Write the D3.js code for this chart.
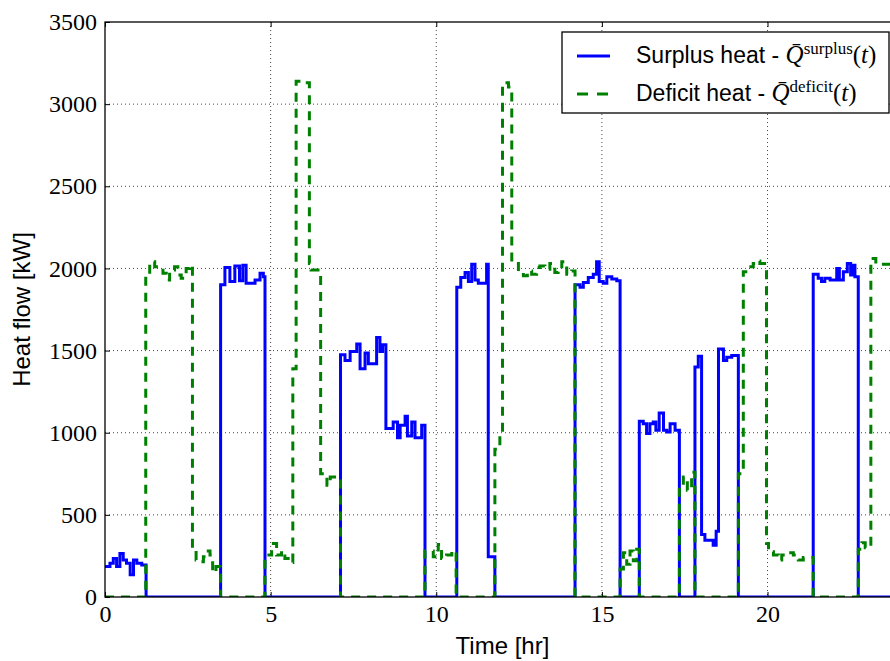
<!DOCTYPE html>
<html>
<head>
<meta charset="utf-8">
<script src="https://cdn.jsdelivr.net/npm/d3@7/dist/d3.min.js"></script>
<style>
  body { margin: 0; background: #fff; }
  svg { display: block; }
</style>
</head>
<body>
<svg id="chart" width="890" height="661"></svg>
<script>
// Step profiles: each value holds from its start hour until the next start hour.
const surplusStart = [
  0, 0.15, 0.25, 0.35, 0.45, 0.55, 0.65, 0.76, 0.86, 0.96, 1.11, 1.24,
  3.49, 3.62, 3.77, 3.92, 4.06, 4.16, 4.26, 4.53, 4.68, 4.78, 4.83,
  7.11, 7.245, 7.4, 7.6, 7.7, 7.85, 7.95, 8.2, 8.3, 8.38, 8.48, 8.7, 8.83, 8.91, 9.06, 9.13, 9.26, 9.36, 9.56, 9.66,
  10.62, 10.74, 10.87, 10.97, 11.07, 11.17, 11.27, 11.52, 11.57, 11.77,
  14.19, 14.34, 14.44, 14.59, 14.74, 14.84, 14.92, 15.04, 15.15, 15.3, 15.45, 15.55,
  16.13, 16.25, 16.35, 16.45, 16.55, 16.63, 16.73, 16.86, 16.96, 17.06, 17.21, 17.34,
  17.81, 17.91, 18.01, 18.11, 18.36, 18.45, 18.52, 18.67, 18.77, 18.92, 19.12,
  21.38, 21.53, 21.63, 21.73, 21.89, 22.09, 22.17, 22.29, 22.41, 22.51, 22.59, 22.64, 22.74
];
const surplusKW = [
  185, 205, 235, 185, 265, 225, 205, 135, 225, 205, 195, 0,
  1900, 2005, 1920, 2015, 1925, 2020, 1910, 1930, 1970, 1950, 0,
  1475, 1440, 1495, 1540, 1390, 1485, 1420, 1580, 1495, 1535, 1025, 1065, 970, 1045, 1100, 980, 1065, 970, 1045, 0,
  1885, 1945, 1975, 1920, 2025, 1930, 1910, 2025, 245, 0,
  1900, 1885, 1915, 1945, 1965, 2040, 1920, 1910, 1950, 1935, 1925, 0,
  1070, 1055, 995, 1055, 1065, 1015, 1120, 1015, 1005, 1055, 1015, 0,
  1400, 1465, 380, 345, 315, 400, 1510, 1440, 1460, 1470, 0,
  1965, 1940, 1920, 1940, 1930, 2000, 1930, 1980, 2030, 1960, 2020, 1950, 0
];
const deficitStart = [
  0, 1.23, 1.35, 1.5, 1.6, 1.75, 1.85, 1.95, 2.1, 2.2, 2.3, 2.45, 2.55,
  2.64, 2.75, 2.87, 2.97, 3.07, 3.17, 3.25, 3.35, 3.49,
  4.83, 5.03, 5.18, 5.33, 5.43, 5.53, 5.67, 5.77, 5.9, 6.17, 6.22, 6.51, 6.7, 6.8, 7.11,
  9.66, 9.91, 10.06, 10.16, 10.31, 10.47, 10.6,
  11.77, 11.92, 12.0, 12.18, 12.28, 12.48, 12.63, 12.75, 12.88, 13.03, 13.13, 13.28, 13.43, 13.58, 13.68, 13.79, 13.94, 14.09, 14.19,
  15.55, 15.65, 15.75, 15.85, 15.95, 16.05, 16.13,
  17.34, 17.46, 17.58, 17.71, 17.81,
  19.12, 19.27, 19.42, 19.57, 19.67, 19.77, 19.97, 20.03, 20.18, 20.33, 20.43, 20.58, 20.78, 20.93, 21.08, 21.38,
  22.74, 22.85, 22.95, 23.12, 23.27, 23.45
];
const deficitKW = [
  0, 1960, 2040, 2010, 2000, 1970, 1930, 1990, 2010, 1960, 1940, 2000, 2020,
  280, 225, 215, 245, 280, 255, 150, 185, 0,
  255, 325, 255, 280, 235, 210, 1390, 3140, 3130, 2030, 1990, 750, 680, 730, 0,
  280, 245, 320, 235, 255, 280, 0,
  900, 970, 3130, 3105, 2040, 1985, 1955, 1985, 1965, 2005, 2015, 1995, 2030, 1975, 1990, 2040, 1965, 1985, 0,
  170, 270, 200, 280, 220, 290, 0,
  670, 730, 650, 760, 0,
  750, 1980, 2010, 2030, 2045, 2030, 325, 275, 255, 225, 255, 270, 255, 225, 240, 0,
  290, 330, 300, 2060, 2030, 2025
];

const xTicks = [0, 5, 10, 15, 20];
const yTicks = [0, 500, 1000, 1500, 2000, 2500, 3000, 3500];
const xDomain = [0, 24];
const yDomain = [0, 3500];
const xLabel = "Time [hr]";
const yLabel = "Heat flow [kW]";
const legendLabels = ["Surplus heat - ", "Deficit heat - "];
const legendSupers = ["surplus", "deficit"];

const svg = d3.select("#chart");
const plot = { left: 105, right: 900, top: 22, bottom: 597 };

const x = d3.scaleLinear().domain(xDomain).range([plot.left, plot.right]);
const y = d3.scaleLinear().domain(yDomain).range([plot.bottom, plot.top]);

svg.append("rect").attr("width", 890).attr("height", 661).attr("fill", "#fff");

svg.append("defs").append("clipPath").attr("id", "plotClip")
  .append("rect")
  .attr("x", plot.left).attr("y", plot.top)
  .attr("width", plot.right - plot.left).attr("height", plot.bottom - plot.top);

// dotted grid
const grid = svg.append("g").attr("stroke", "#000").attr("stroke-width", 0.9)
  .attr("stroke-dasharray", "1,3").attr("opacity", 0.8);
grid.selectAll(".gx").data(xTicks.filter(t => t > xDomain[0] && t < xDomain[1]))
  .join("line")
  .attr("x1", d => x(d)).attr("x2", d => x(d))
  .attr("y1", plot.top).attr("y2", plot.bottom);
grid.selectAll(".gy").data(yTicks.filter(t => t > yDomain[0] && t < yDomain[1]))
  .join("line")
  .attr("y1", d => y(d)).attr("y2", d => y(d))
  .attr("x1", plot.left).attr("x2", plot.right);

// step traces
function stepPoints(starts, vals) {
  const pts = starts.map((t, i) => [t, vals[i]]);
  pts.push([xDomain[1], vals[vals.length - 1]]);
  return pts;
}
const stepLine = d3.line()
  .x(d => x(d[0])).y(d => y(d[1]))
  .curve(d3.curveStepAfter);

const lines = svg.append("g").attr("clip-path", "url(#plotClip)").attr("fill", "none");
lines.append("path")
  .attr("d", stepLine(stepPoints(surplusStart, surplusKW)))
  .attr("stroke", "#0000ff").attr("stroke-width", 3)
  .attr("stroke-linejoin", "miter");
lines.append("path")
  .attr("d", stepLine(stepPoints(deficitStart, deficitKW)))
  .attr("stroke", "#008000").attr("stroke-width", 3)
  .attr("stroke-dasharray", "9,7");

// axes with inward ticks
const tickFont = "'Liberation Serif', 'Times New Roman', serif";
const axisB = svg.append("g").attr("transform", `translate(0,${plot.bottom})`)
  .call(d3.axisBottom(x).tickValues(xTicks).tickFormat(d3.format("d"))
    .tickSizeInner(-5).tickSizeOuter(0).tickPadding(8));
const axisT = svg.append("g").attr("transform", `translate(0,${plot.top})`)
  .call(d3.axisTop(x).tickValues(xTicks).tickFormat("")
    .tickSizeInner(-5).tickSizeOuter(0));
const axisL = svg.append("g").attr("transform", `translate(${plot.left},0)`)
  .call(d3.axisLeft(y).tickValues(yTicks).tickFormat(d3.format("d"))
    .tickSizeInner(-5).tickSizeOuter(0).tickPadding(8));
[axisB, axisT, axisL].forEach(g => {
  g.select(".domain").remove();
  g.selectAll(".tick line").attr("stroke", "#000").attr("stroke-width", 1);
  g.selectAll("text").attr("font-family", tickFont).attr("font-size", 24).attr("fill", "#000");
});

// spines
svg.append("rect")
  .attr("x", plot.left).attr("y", plot.top)
  .attr("width", plot.right - plot.left).attr("height", plot.bottom - plot.top)
  .attr("fill", "none").attr("stroke", "#000").attr("stroke-width", 1.3);

// axis titles
const sans = "'Liberation Sans', Arial, Helvetica, sans-serif";
svg.append("text")
  .attr("x", (plot.left + plot.right) / 2).attr("y", 654)
  .attr("text-anchor", "middle").attr("font-family", sans).attr("font-size", 24)
  .text(xLabel);
svg.append("text")
  .attr("transform", `translate(30,${(plot.top + plot.bottom) / 2}) rotate(-90)`)
  .attr("text-anchor", "middle").attr("font-family", sans).attr("font-size", 24)
  .text(yLabel);

// legend
const legend = svg.append("g");
legend.append("rect")
  .attr("x", 562).attr("y", 32).attr("width", 327).attr("height", 81)
  .attr("fill", "#fff").attr("stroke", "#000").attr("stroke-width", 1.3);
const legendStyles = [
  { color: "#0000ff", dash: null },
  { color: "#008000", dash: "11,9" }
];
const rowY = [56, 94];
legendLabels.forEach((lab, i) => {
  legend.append("line")
    .attr("x1", 577).attr("x2", 610).attr("y1", rowY[i]).attr("y2", rowY[i])
    .attr("stroke", legendStyles[i].color).attr("stroke-width", 3)
    .attr("stroke-dasharray", legendStyles[i].dash);
  const t = legend.append("text")
    .attr("x", 636).attr("y", rowY[i] + 7)
    .attr("font-family", sans).attr("font-size", 23).attr("fill", "#000");
  t.append("tspan").text(lab);
  t.append("tspan").attr("font-family", tickFont).attr("font-style", "italic")
    .attr("font-size", 25).text("Q\u0304");
  t.append("tspan").attr("font-family", tickFont).attr("font-size", 17)
    .attr("dy", -9).text(legendSupers[i]);
  t.append("tspan").attr("font-family", tickFont).attr("font-size", 25)
    .attr("dy", 9).text("(");
  t.append("tspan").attr("font-family", tickFont).attr("font-style", "italic")
    .attr("font-size", 25).text("t");
  t.append("tspan").attr("font-family", tickFont).attr("font-size", 25).text(")");
});
</script>
</body>
</html>
